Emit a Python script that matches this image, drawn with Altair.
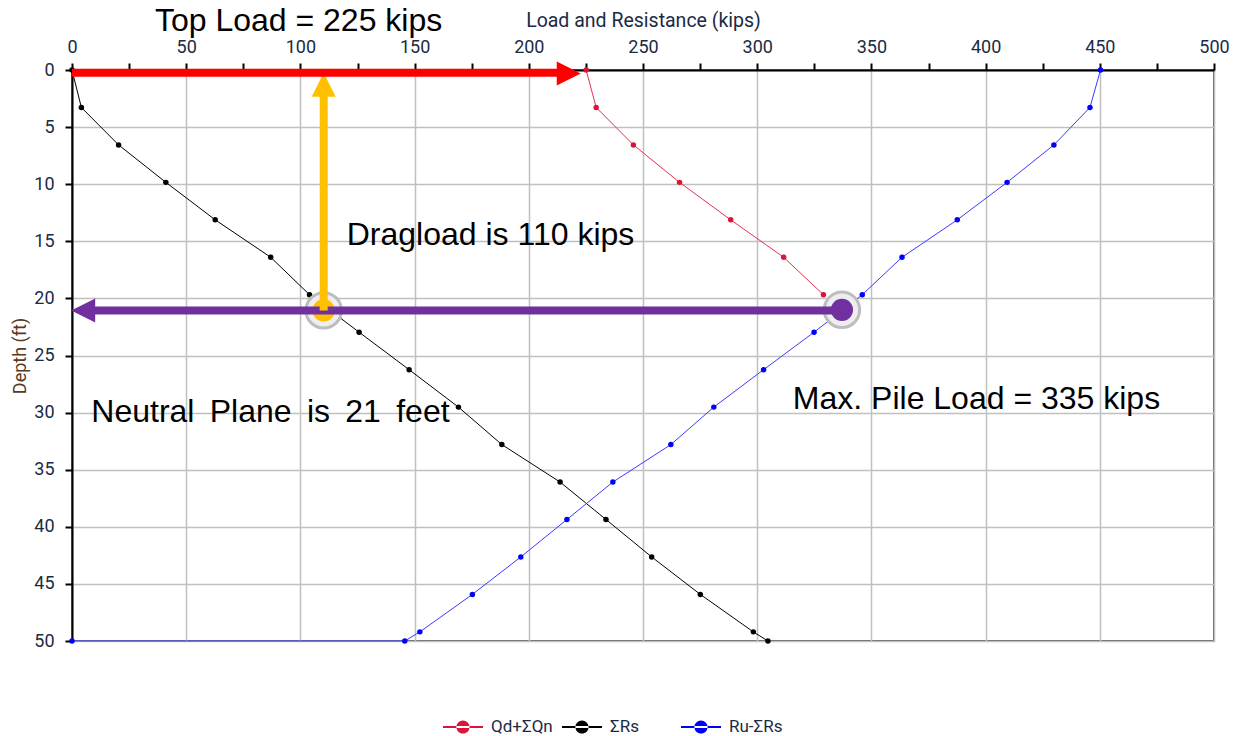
import altair as alt
import pandas as pd

# ---- data ----
names = ["Qd+ΣQn", "ΣRs", "Ru-ΣRs"]
point_colors = ["#DC143C", "#000000", "#0000FF"]
line_colors = ["#E8304F", "#000000", "#3A3AFF"]

depth = [0, 3.28, 6.56, 9.84, 13.12, 16.4, 19.68, 22.96, 26.24, 29.52, 32.8,
         36.08, 39.36, 42.64, 45.92, 49.2, 50]
rs = [0, 4.1, 20.4, 41.1, 62.7, 87.0, 104.0, 125.7, 147.6, 169.2, 188.2,
      213.7, 233.8, 253.8, 275.1, 298.3, 304.7]
qd_depth = [0, 3.28, 6.56, 9.84, 13.12, 16.4, 19.68]
qd = [225.1, 229.5, 245.8, 266.0, 288.4, 311.6, 329.0]
ru_depth = [0, 3.28, 6.56, 9.84, 13.12, 16.4, 19.68, 22.96, 26.24, 29.52, 32.8,
            36.08, 39.36, 42.64, 45.92, 49.2, 50, 50]
ru = [450.3, 445.7, 429.9, 409.4, 387.6, 363.4, 346.0, 324.9, 302.8, 281.0, 262.2,
      236.8, 216.7, 196.5, 175.3, 152.3, 145.7, 0]

x_ticks = list(range(0, 501, 25))
y_ticks = [i * 2.5 for i in range(21)]

# annotation values (kips, ft)
top_load_arrow = {"load": [0], "load2": [215], "depth": [0.25]}
top_load_head = {"load": [217.5], "depth": [0.3]}
drag_arrow = {"load": [110.2], "depth": [21.05], "depth2": [2.0]}
drag_head = {"load": [110.2], "depth": [1.3]}
np_arrow = {"load": [8], "load2": [337], "depth": [21.05]}
np_head = {"load": [4.9], "depth": [21.05]}
yellow_dot = {"load": [110.2], "depth": [21.05]}
purple_dot = {"load": [337.1], "depth": [21.0]}
halos = {"load": [110.2, 337.1], "depth": [21.05, 21.0]}
texts = ["Top Load = 225 kips", "Dragload is 110 kips",
         "Neutral \u2009Plane \u2009is \u200921 \u2009feet", "Max. Pile Load = 335 kips"]
text_x = [36.3, 120.3, 8.45, 315.6]
text_y = [-3.4, 15.32, 30.85, 29.71]

# ---- tables ----
series_rows = {
    names[0]: (qd_depth, qd),
    names[1]: (depth, rs),
    names[2]: (ru_depth, ru),
}
rows = []
for name, (ds, vs) in series_rows.items():
    for i, (d, v) in enumerate(zip(ds, vs)):
        rows.append({"series": name, "load": v, "depth": d, "idx": i})
df = pd.DataFrame(rows)

label_color = "#1B2A44"
axis_font = "Roboto"

xscale = alt.Scale(domain=[0, 500], nice=False, zero=False)
yscale = alt.Scale(domain=[0, 50], nice=False, zero=False, reverse=True)

xaxis = alt.Axis(
    orient="top", values=x_ticks,
    labelExpr="datum.value % 50 === 0 ? datum.label : ''",
    title="Load and Resistance (kips)",
    grid=True, gridColor="#C0C0C0", gridWidth=1.5,
    gridOpacity={"condition": {"test": "datum.value % 50 === 0", "value": 1}, "value": 0},
    domainColor="#000000", domainWidth=2,
    tickColor="#000000", tickWidth=2, tickSize=7,
    labelFont=axis_font, labelFontSize=18, labelColor=label_color, labelPadding=7,
    labelFlush=False, labelOverlap=False, labelBound=False,
    titleFont=axis_font, titleFontSize=19.5, titleFontWeight="normal",
    titleColor=label_color, titlePadding=8,
)
yaxis = alt.Axis(
    orient="left", values=y_ticks,
    labelExpr="datum.value % 5 === 0 ? datum.label : ''",
    title="Depth (ft)",
    grid=True, gridColor="#C0C0C0", gridWidth=1.5,
    gridOpacity={"condition": {"test": "datum.value % 5 === 0", "value": 1}, "value": 0},
    domainColor="#000000", domainWidth=2,
    tickColor="#000000", tickWidth=2, tickSize=7,
    labelFont=axis_font, labelFontSize=18, labelColor=label_color, labelPadding=11,
    labelFlush=False, labelOverlap=False, labelBound=False,
    titleFont=axis_font, titleFontSize=18, titleFontWeight="normal",
    titleColor="#5A3A1E", titlePadding=4,
)

X = alt.X("load:Q", scale=xscale, axis=xaxis)
Y = alt.Y("depth:Q", scale=yscale, axis=yaxis)

legend_symbol = ("M-1,-0.05H1V0.05H-1Z "
                 "M-0.33,0A0.33,0.33 0 1,0 0.33,0A0.33,0.33 0 1,0 -0.33,0Z")

line_layers = []
for k, (name, col) in enumerate(zip(names, line_colors)):
    enc_x = X if k == 0 else alt.X("load:Q")
    enc_y = Y if k == 0 else alt.Y("depth:Q")
    line_layers.append(
        alt.Chart(df).transform_filter(alt.datum.series == name)
        .mark_line(strokeWidth=1, color=col)
        .encode(x=enc_x, y=enc_y, order="idx:Q")
    )

points = alt.Chart(df).mark_point(filled=True, size=30, opacity=1).encode(
    x="load:Q", y="depth:Q",
    color=alt.Color(
        "series:N", scale=alt.Scale(domain=names, range=point_colors),
        legend=alt.Legend(
            title=None, orient="none", legendX=371, legendY=637,
            direction="horizontal", columns=3, gridAlign="all",
            symbolType=legend_symbol, symbolSize=1600, symbolStrokeWidth=0,
            labelFont=axis_font, labelFontSize=17, labelColor=label_color,
            labelOffset=8, columnPadding=9,
        ),
    ),
)

def tbl(d):
    return pd.DataFrame(d)

halo = alt.Chart(tbl(halos)).mark_circle(size=1257, color="#EEEEEE", opacity=1,
                                        stroke="#BDBDBD", strokeWidth=3).encode(
    x="load:Q", y="depth:Q")
ydot = alt.Chart(tbl(yellow_dot)).mark_circle(size=491, color="#FFC000", opacity=1).encode(
    x="load:Q", y="depth:Q")
np_line = alt.Chart(tbl(np_arrow)).mark_rule(strokeWidth=8, color="#7030A0").encode(
    x="load:Q", x2="load2:Q", y="depth:Q")
np_arrowhead = alt.Chart(tbl(np_head)).mark_point(
    shape="M1,-1L-1,0L1,1Z", size=576, filled=True, color="#7030A0", opacity=1).encode(
    x="load:Q", y="depth:Q")
drag_line = alt.Chart(tbl(drag_arrow)).mark_rule(strokeWidth=8, color="#FFC000").encode(
    x="load:Q", y="depth:Q", y2="depth2:Q")
drag_arrowhead = alt.Chart(tbl(drag_head)).mark_point(
    shape="M-1,1L0,-1L1,1Z", size=576, filled=True, color="#FFC000", opacity=1).encode(
    x="load:Q", y="depth:Q")
pdot = alt.Chart(tbl(purple_dot)).mark_circle(size=491, color="#7030A0", opacity=1).encode(
    x="load:Q", y="depth:Q")
top_line = alt.Chart(tbl(top_load_arrow)).mark_rule(strokeWidth=8, color="#FF0000").encode(
    x="load:Q", x2="load2:Q", y="depth:Q")
top_arrowhead = alt.Chart(tbl(top_load_head)).mark_point(
    shape="M-1,-1L1,0L-1,1Z", size=576, filled=True, color="#FF0000", opacity=1).encode(
    x="load:Q", y="depth:Q")
notes = alt.Chart(pd.DataFrame({"text": texts, "load": text_x, "depth": text_y})).mark_text(
    align="left", baseline="alphabetic", font="Liberation Sans", fontSize=32, color="#000000"
).encode(x="load:Q", y="depth:Q", text="text:N")

chart = alt.layer(
    *line_layers, points, halo, ydot, np_line, drag_line, pdot, np_arrowhead, drag_arrowhead,
    top_line, top_arrowhead, notes,
).properties(
    width=1142, height=571,
    padding={"left": 64, "top": 62, "right": 19, "bottom": 95},
    autosize=alt.AutoSizeParams(type="none"),
    background="#FFFFFF",
).configure_view(stroke="#606060", strokeWidth=2)

chart.save("out.html", embed_options={"renderer": "svg", "actions": False})
